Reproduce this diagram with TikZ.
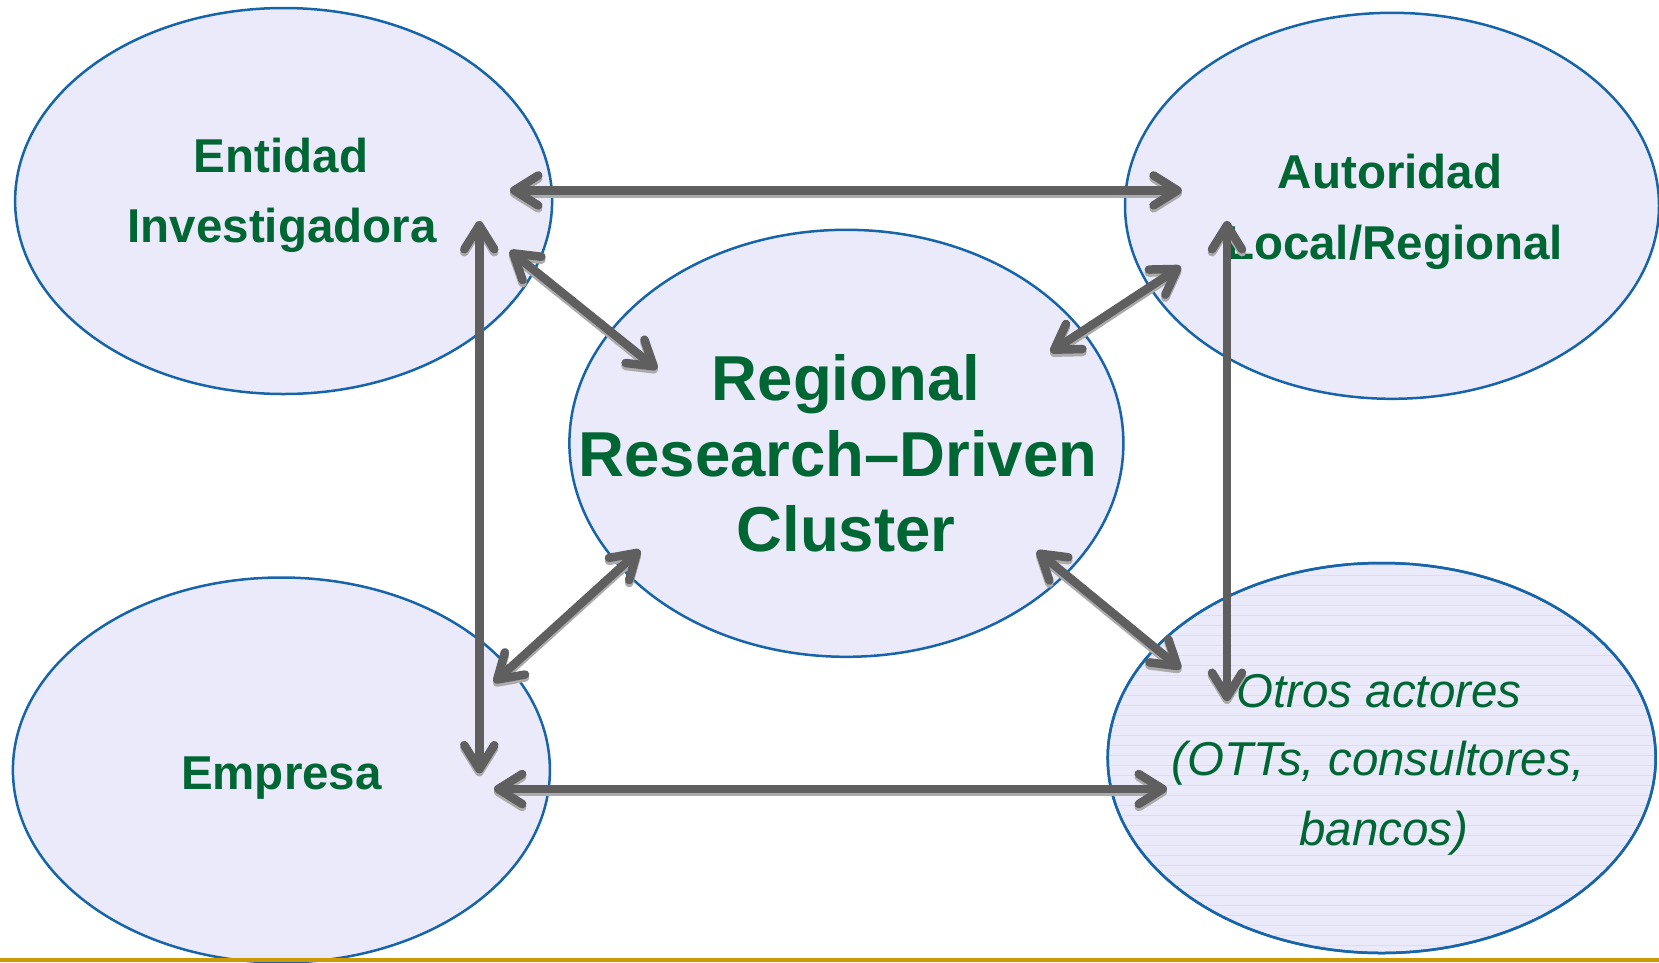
\documentclass[tikz,border=0pt]{standalone}
\usepackage{fontspec}
\setmainfont{Liberation Sans}
\usetikzlibrary{arrows.meta,shapes.geometric}
\definecolor{txtgreen}{HTML}{006633}
\definecolor{ellfill}{HTML}{EAEAFB}
\definecolor{elldraw}{HTML}{1864A8}
\definecolor{arrgray}{HTML}{5F5F5F}
\definecolor{shadgray}{HTML}{ABABAB}
\definecolor{hatch}{HTML}{DCDCF4}
\definecolor{goldline}{HTML}{CC9900}
\newcommand\twoway[2]{%
  \draw[conn,draw=shadgray,transform canvas={xshift=0pt,yshift=-3pt}] (#1) -- (#2);
  \draw[conn] (#1) -- (#2);}
\begin{document}
\begin{tikzpicture}[x=1pt,y=-1pt,
  ell/.style={ellipse, draw=elldraw, line width=2.5pt, fill=ellfill, inner sep=0pt},
  lbl/.style={text=txtgreen, font=\fontsize{47.5}{56}\selectfont\bfseries, anchor=base, inner sep=0pt},
  big/.style={text=txtgreen, font=\fontsize{63.5}{70}\selectfont\bfseries, anchor=base, inner sep=0pt},
  ital/.style={text=txtgreen, font=\fontsize{47.5}{56}\selectfont\itshape, anchor=base, inner sep=0pt},
  conn/.style={draw=arrgray, line width=8.5pt, line cap=round, line join=round,
    {Straight Barb[length=24pt,width=30pt,line cap=round,line join=round]}-{Straight Barb[length=24pt,width=30pt,line cap=round,line join=round]}},
]
\useasboundingbox (0,0) rectangle (1659,962);
\begin{scope}
\clip (0,0) rectangle (1659,962);
% ellipses
\node[ell, minimum width=537pt, minimum height=386pt] (ent) at (283.6,201) {};
\node[ell, minimum width=534pt, minimum height=386pt] (aut) at (1392,205.8) {};
\node[ell, minimum width=554pt, minimum height=427pt] (rrc) at (846.4,443.3) {};
\node[ell, minimum width=537pt, minimum height=385pt] (emp) at (281.4,770) {};
\node[ell, minimum width=548pt, minimum height=390pt] (otr) at (1381.7,758) {};
\begin{scope}
  \clip (otr.center) ellipse (273pt and 194pt);
  \foreach \yy in {565,575,...,955} \draw[hatch, line width=0.8pt] (1100,\yy) -- (1660,\yy);
\end{scope}
\draw[draw=elldraw, line width=2.5pt] (otr.center) ellipse (274pt and 195pt);
% gold line
\fill[goldline] (0,957.5) rectangle (1659,962);
\end{scope}
% labels
\node[lbl] (t1) at (281,172.5) {Entidad};
\node[lbl] (t2) at (282,242.3) {Investigadora};
\node[lbl] (t3) at (1390,188.3) {Autoridad};
\node[lbl] (t4) at (1394,259) {Local/Regional};
\node[big] (t5) at (846,400) {Regional};
\node[big] (t6) at (838,476) {Research–Driven};
\node[big] (t7) at (846,551) {Cluster};
\node[lbl] (t8) at (281.4,789) {Empresa};
\node[ital] (t9) at (1379,707) {Otros actores};
\node[ital] (t10) at (1378,775.5) {(OTTs, consultores,};
\node[ital] (t11) at (1384,845) {bancos)};
% connector end points
\coordinate (entR) at (510,190.4);
\coordinate (autL) at (1181.8,190.4);
\coordinate (empR) at (494,789);
\coordinate (otrL) at (1167,789);
\coordinate (entB) at (479.3,221);
\coordinate (empT) at (479.3,773.4);
\coordinate (autB) at (1227,221);
\coordinate (otrT) at (1227,701);
\coordinate (entD) at (510,250.7);
\coordinate (rrcUL) at (657,369);
\coordinate (rrcUR) at (1050.6,352);
\coordinate (autD) at (1180.7,266.6);
\coordinate (empD) at (494,682.4);
\coordinate (rrcLL) at (640,550);
\coordinate (rrcLR) at (1037,551);
\coordinate (otrD) at (1180.7,668.7);
% connectors
\twoway{entR}{autL}
\twoway{empR}{otrL}
\twoway{entB}{empT}
\twoway{autB}{otrT}
\twoway{entD}{rrcUL}
\twoway{rrcUR}{autD}
\twoway{empD}{rrcLL}
\twoway{rrcLR}{otrD}
\end{tikzpicture}
\end{document}
